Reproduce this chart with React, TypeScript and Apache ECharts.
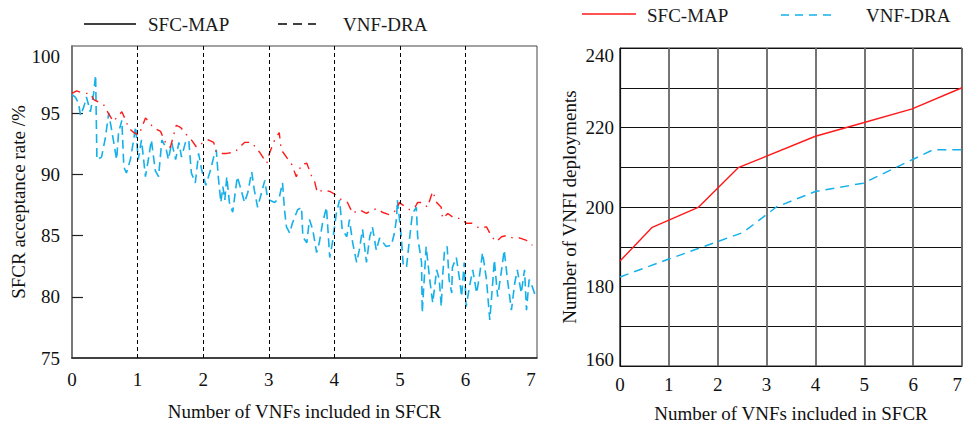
import React, { useEffect, useRef } from "react";
import * as echarts from "echarts";

// ---- Left chart: SFCR acceptance rate (%) vs number of VNFs ----
const leftXTicks = [0, 1, 2, 3, 4, 5, 6, 7];
const leftYTicks = [75, 80, 85, 90, 95, 100];
const leftDividers = [1, 2, 3, 4, 5, 6];

const leftSfcMap: number[][] = [
  [0, 96.6], [0.07, 96.8], [0.18, 96.6], [0.28, 96.6], [0.33, 96.1], [0.48, 95.7], [0.53, 95.2],
  [0.63, 94.3], [0.76, 95.1], [0.82, 94.4], [0.86, 93.8], [0.94, 93.4], [1.02, 93.2], [1.12, 94.6],
  [1.17, 94.3], [1.24, 93.8], [1.35, 93.5], [1.44, 92.4], [1.5, 92.2], [1.59, 94.0], [1.66, 93.8],
  [1.75, 93.2], [1.82, 92.8], [1.9, 92.2], [2.0, 92.6], [2.08, 92.8], [2.16, 92.6], [2.2, 91.8],
  [2.25, 91.7], [2.36, 91.7], [2.48, 91.8], [2.63, 92.6], [2.74, 92.6], [2.86, 91.8], [2.97, 90.9],
  [3.01, 91.7], [3.09, 92.8], [3.16, 93.4], [3.19, 92.0], [3.27, 91.4], [3.35, 90.8], [3.42, 89.8],
  [3.5, 90.8], [3.58, 90.9], [3.65, 89.9], [3.7, 89.4], [3.74, 88.5], [3.82, 88.7], [3.93, 88.6],
  [4.03, 88.3], [4.11, 87.9], [4.2, 87.7], [4.28, 86.8], [4.38, 87.1], [4.49, 86.8], [4.58, 87.1],
  [4.66, 87.2], [4.73, 86.9], [4.84, 86.7], [4.95, 87.1], [4.99, 87.7], [5.04, 87.5], [5.15, 87.1],
  [5.22, 87.2], [5.27, 87.7], [5.34, 87.7], [5.42, 87.3], [5.5, 88.6], [5.56, 87.7], [5.63, 87.3],
  [5.65, 86.4], [5.73, 86.8], [5.83, 86.4], [5.94, 86.4], [6.01, 86.0], [6.1, 86.0], [6.21, 85.6],
  [6.32, 85.7], [6.4, 84.9], [6.47, 84.5], [6.55, 84.9], [6.63, 85.0], [6.72, 84.8], [6.82, 84.8],
  [6.93, 84.6], [7.02, 84.2],
];

const leftVnfDra: number[][] = [
  [0, 96.5], [0.05, 96.3], [0.1, 95.8], [0.13, 94.8], [0.18, 95.5], [0.22, 96.3], [0.28, 95.1],
  [0.33, 96.6], [0.36, 98.1], [0.38, 91.2], [0.45, 91.4], [0.51, 93.0], [0.56, 95.0], [0.63, 92.8],
  [0.68, 91.2], [0.71, 93.4], [0.76, 94.4], [0.79, 90.6], [0.83, 90.1], [0.89, 91.2], [0.94, 92.8],
  [0.97, 93.9], [1.01, 91.2], [1.06, 92.8], [1.12, 89.8], [1.17, 91.4], [1.21, 92.8], [1.27, 90.3],
  [1.32, 89.8], [1.37, 92.8], [1.43, 92.2], [1.47, 91.2], [1.52, 92.6], [1.58, 91.2], [1.63, 92.6],
  [1.67, 91.4], [1.73, 92.6], [1.78, 92.8], [1.82, 90.1], [1.88, 89.3], [1.93, 91.7], [1.98, 90.3],
  [2.04, 89.1], [2.11, 90.3], [2.16, 91.4], [2.2, 92.0], [2.23, 89.8], [2.27, 87.7], [2.3, 89.0],
  [2.33, 87.9], [2.36, 89.8], [2.4, 87.7], [2.45, 86.9], [2.52, 89.8], [2.58, 88.7], [2.63, 87.7],
  [2.68, 88.5], [2.74, 90.2], [2.78, 88.7], [2.83, 87.3], [2.89, 88.5], [2.94, 89.5], [2.98, 88.1],
  [3.01, 87.9], [3.09, 87.7], [3.16, 88.1], [3.21, 89.3], [3.24, 87.1], [3.27, 85.7], [3.32, 85.2],
  [3.36, 86.0], [3.44, 87.1], [3.5, 87.3], [3.52, 84.9], [3.58, 84.4], [3.62, 86.3], [3.67, 85.5],
  [3.73, 83.6], [3.77, 84.4], [3.82, 86.0], [3.88, 87.3], [3.93, 83.2], [3.97, 84.4], [4.03, 86.8],
  [4.08, 87.9], [4.12, 85.5], [4.19, 84.9], [4.23, 86.3], [4.28, 84.4], [4.34, 82.8], [4.38, 83.8],
  [4.43, 85.5], [4.49, 82.8], [4.54, 84.9], [4.58, 85.7], [4.64, 83.8], [4.69, 84.8], [4.79, 84.1],
  [4.87, 84.2], [4.92, 85.3], [4.95, 86.5], [4.96, 87.9], [4.99, 86.5], [5.02, 84.9], [5.05, 82.6],
  [5.1, 82.4], [5.15, 84.9], [5.19, 86.8], [5.25, 87.3], [5.27, 84.9], [5.33, 82.8], [5.34, 78.7],
  [5.37, 81.4], [5.4, 84.1], [5.45, 81.6], [5.5, 79.5], [5.56, 82.2], [5.6, 81.4], [5.63, 79.2],
  [5.65, 81.6], [5.68, 83.8], [5.72, 84.1], [5.75, 81.4], [5.79, 80.3], [5.8, 82.4], [5.86, 83.2],
  [5.91, 81.4], [5.94, 80.0], [5.98, 82.8], [6.01, 79.2], [6.06, 80.8], [6.11, 82.2], [6.17, 80.3],
  [6.21, 81.6], [6.26, 83.6], [6.32, 81.4], [6.37, 78.1], [6.41, 80.8], [6.44, 83.0], [6.49, 80.0],
  [6.55, 82.2], [6.59, 83.8], [6.64, 81.4], [6.7, 78.9], [6.75, 81.1], [6.79, 82.2], [6.85, 80.3],
  [6.9, 82.2], [6.93, 78.9], [6.97, 81.4], [7.02, 80.8], [7.07, 80.0],
];

// ---- Right chart: number of VNFI deployments vs number of VNFs ----
const rightYLabels = [160, 180, 200, 220, 240];

const rightSfcMap: number[][] = [
  [0, 186.4], [0.66, 194.9], [1.6, 199.9], [2.42, 209.9], [4, 217.8], [4.98, 221.2], [5.98, 224.7], [7, 230],
];

const rightVnfDra: number[][] = [
  [0, 182.4], [1, 186.9], [2.52, 193.6], [3.2, 200], [4, 203.9], [4.98, 206.0], [5.98, 211.9], [6.41, 214.4], [7, 214.4],
];

const FONT = "'Liberation Serif', 'Times New Roman', serif";
const RED = "#ff1a1a";
const BLUE = "#14b0ea";
const FS = 19;

export default function App() {
  const ref = useRef<HTMLDivElement>(null);

  useEffect(() => {
    if (!ref.current) return;
    const chart = echarts.init(ref.current, undefined, { renderer: "svg" });

    const legendText = (text: string, x: number, y: number) => ({
      type: "text",
      x,
      y,
      style: { text, fontSize: FS, fontFamily: FONT, fill: "#1a1a1a", verticalAlign: "middle", align: "left" },
    });
    const legendLine = (x1: number, x2: number, y: number, color: string, dash?: number[]) => ({
      type: "line",
      shape: { x1, y1: y, x2, y2: y },
      style: { stroke: color, lineWidth: 1.5, lineDash: dash },
    });
    const labelStyle = { fontSize: FS, color: "#111", fontFamily: FONT };

    chart.setOption({
      animation: false,
      backgroundColor: "#ffffff",
      textStyle: { fontFamily: FONT },
      graphic: [
        legendLine(84, 136, 24, "#000"),
        legendText("SFC-MAP", 148, 24),
        legendLine(278, 316, 24, "#000", [9, 6]),
        legendText("VNF-DRA", 343, 24),
        legendLine(582, 636, 14, RED),
        legendText("SFC-MAP", 647, 15),
        legendLine(781, 836, 15, BLUE, [8, 6]),
        legendText("VNF-DRA", 866, 15),
      ],
      grid: [
        { left: 72, top: 46, width: 465, height: 312, outerBoundsMode: "none", containLabel: false, show: true, borderColor: "#444", borderWidth: 1, backgroundColor: "transparent" },
        { left: 620, top: 48, width: 342, height: 318, outerBoundsMode: "none", containLabel: false, show: true, borderColor: "#222", borderWidth: 1, backgroundColor: "transparent" },
      ],
      xAxis: [
        {
          gridIndex: 0,
          type: "value",
          min: 0,
          max: 7.09,
          interval: 1,
          axisLine: { lineStyle: { color: "#222", width: 1.5 } },
          axisTick: { show: false },
          splitLine: { show: false },
          axisLabel: { customValues: leftXTicks, margin: 12, ...labelStyle },
          name: "Number of VNFs included in SFCR",
          nameLocation: "middle",
          nameGap: 44,
          nameTextStyle: labelStyle,
        },
        {
          gridIndex: 1,
          type: "value",
          min: 0,
          max: 7,
          interval: 1,
          axisLine: { lineStyle: { color: "#111", width: 1.2 } },
          axisTick: { show: false },
          splitLine: { show: true, lineStyle: { color: "#666", width: 1.8 } },
          axisLabel: {
            margin: 9,
            ...labelStyle,
            alignMaxLabel: "right",
            formatter: (v: number) => (v === 0 ? "{up|0}" : String(v)),
            rich: { up: { ...labelStyle, padding: [0, 0, 10, 0] } },
          },
          name: "Number of VNFs included in SFCR",
          nameLocation: "middle",
          nameGap: 38,
          nameTextStyle: labelStyle,
        },
      ],
      yAxis: [
        {
          gridIndex: 0,
          type: "value",
          min: 75,
          max: 100.47,
          interval: 5,
          axisLine: { show: true, lineStyle: { color: "#777", width: 2 } },
          axisTick: { show: true, inside: true, length: 11, customValues: [80, 85, 90, 95], lineStyle: { color: "#222", width: 1.2 } },
          splitLine: { show: false },
          axisLabel: {
            customValues: leftYTicks,
            margin: 12,
            ...labelStyle,
            formatter: (v: number) => (v === 100 ? "{down|100}" : String(v)),
            rich: { down: { ...labelStyle, padding: [10, 0, 0, 0] } },
          },
          name: "SFCR acceptance rate /%",
          nameLocation: "middle",
          nameGap: 43,
          nameTextStyle: labelStyle,
        },
        {
          gridIndex: 1,
          type: "value",
          min: 160,
          max: 240,
          interval: 10,
          axisLine: { show: true, lineStyle: { color: "#111", width: 1.2 } },
          axisTick: { show: false },
          splitLine: { show: true, lineStyle: { color: "#111", width: 1 } },
          axisLabel: {
            customValues: rightYLabels,
            margin: 6,
            ...labelStyle,
            formatter: (v: number) => (v === 240 ? "{down|240}" : v === 160 ? "{up|160}" : String(v)),
            rich: {
              down: { ...labelStyle, padding: [14, 0, 0, 0] },
              up: { ...labelStyle, padding: [0, 0, 14, 0] },
            },
          },
          name: "Number of VNFI deployments",
          nameLocation: "middle",
          nameGap: 41,
          nameTextStyle: labelStyle,
        },
      ],
      series: [
        {
          name: "VNF-DRA",
          type: "line",
          xAxisIndex: 0,
          yAxisIndex: 0,
          data: leftVnfDra,
          symbol: "none",
          lineStyle: { color: BLUE, width: 1.6, type: [9, 5] },
          markLine: {
            silent: true,
            symbol: "none",
            label: { show: false },
            lineStyle: { color: "#000", width: 1, type: [4, 3] },
            data: leftDividers.map((v) => ({ xAxis: v })),
          },
        },
        {
          name: "SFC-MAP",
          type: "line",
          xAxisIndex: 0,
          yAxisIndex: 0,
          data: leftSfcMap,
          symbol: "none",
          lineStyle: { color: RED, width: 1.4, type: [9, 6, 1.5, 6] },
        },
        {
          name: "SFC-MAP",
          type: "line",
          xAxisIndex: 1,
          yAxisIndex: 1,
          data: rightSfcMap,
          symbol: "none",
          lineStyle: { color: RED, width: 1.4, type: "solid" },
        },
        {
          name: "VNF-DRA",
          type: "line",
          xAxisIndex: 1,
          yAxisIndex: 1,
          data: rightVnfDra,
          symbol: "none",
          lineStyle: { color: BLUE, width: 1.5, type: [9, 6] },
        },
      ],
    });

    return () => chart.dispose();
  }, []);

  return (
    <div
      ref={ref}
      style={{ position: "absolute", left: 0, top: 0, width: 963, height: 425, background: "#fff" }}
    />
  );
}
